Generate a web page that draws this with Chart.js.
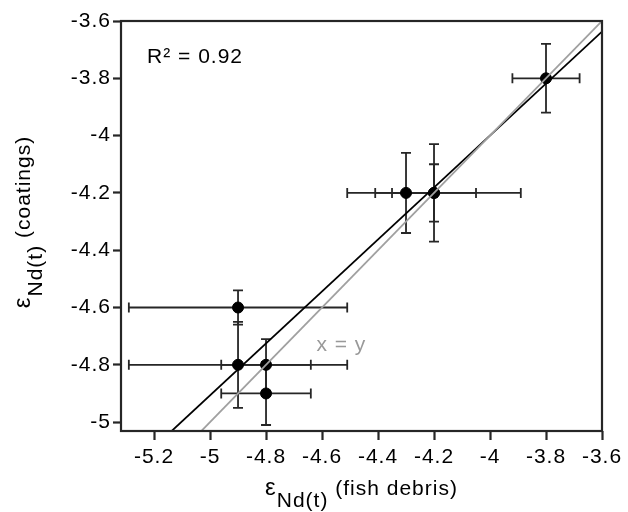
<!DOCTYPE html>
<html lang="en">
<head>
  <meta charset="UTF-8">
  <title>Nd isotopes: coatings vs fish debris</title>
  <script src="https://cdn.jsdelivr.net/npm/chart.js"></script>
  <style>
    body {
      margin: 0;
      padding: 0;
      background: #fff;
    }
    #wrap {
      width: 628px;
      height: 512px;
    }
  </style>
</head>
<body>
  <div id="wrap">
    <canvas id="myChart" width="628" height="512"></canvas>
  </div>

  <script>
    // measured values
    const debrisX = [-3.8, -4.3, -4.2, -4.2, -4.9, -4.9, -4.8, -4.8];
    const coatingsY = [-3.8, -4.2, -4.2, -4.2, -4.6, -4.8, -4.8, -4.9];
    const debrisErr = [0.12, 0.11, 0.31, 0.15, 0.39, 0.39, 0.16, 0.16];
    const coatingsErr = [0.12, 0.14, 0.17, 0.10, 0.06, 0.15, 0.09, 0.11];

    // regression fit and 1:1 line
    const fitX = [-5.2, -3.6];
    const fitY = [-5.088, -3.637];
    const oneToOne = [-5.1, -3.6];

    const xTicks = [-5.2, -5, -4.8, -4.6, -4.4, -4.2, -4, -3.8, -3.6];
    const yTicks = [-5, -4.8, -4.6, -4.4, -4.2, -4, -3.8, -3.6];

    const FONT = '"Liberation Sans", Arial, sans-serif';
    const INK = '#262626';

    const extras = {
      id: 'extras',
      beforeDraw(chart) {
        // the original uses a slightly loose Helvetica
        chart.ctx.letterSpacing = '1px';
      },
      beforeDatasetsDraw(chart) {
        const ctx = chart.ctx;
        const xs = chart.scales.x, ys = chart.scales.y;
        const cap = 5;
        ctx.save();
        ctx.strokeStyle = INK;
        ctx.lineWidth = 1.8;
        for (let i = 0; i < debrisX.length; i++) {
          const px = xs.getPixelForValue(debrisX[i]);
          const py = ys.getPixelForValue(coatingsY[i]);
          const x0 = xs.getPixelForValue(debrisX[i] - debrisErr[i]);
          const x1 = xs.getPixelForValue(debrisX[i] + debrisErr[i]);
          const y0 = ys.getPixelForValue(coatingsY[i] - coatingsErr[i]);
          const y1 = ys.getPixelForValue(coatingsY[i] + coatingsErr[i]);
          ctx.beginPath();
          ctx.moveTo(x0, py); ctx.lineTo(x1, py);
          ctx.moveTo(x0, py - cap); ctx.lineTo(x0, py + cap);
          ctx.moveTo(x1, py - cap); ctx.lineTo(x1, py + cap);
          ctx.moveTo(px, y0); ctx.lineTo(px, y1);
          ctx.moveTo(px - cap, y0); ctx.lineTo(px + cap, y0);
          ctx.moveTo(px - cap, y1); ctx.lineTo(px + cap, y1);
          ctx.stroke();
        }
        ctx.restore();
      },
      afterDraw(chart) {
        const ctx = chart.ctx;
        const a = chart.chartArea;
        const xs = chart.scales.x, ys = chart.scales.y;
        ctx.save();
        // frame
        ctx.strokeStyle = INK;
        ctx.lineWidth = 2.2;
        ctx.strokeRect(a.left, a.top, a.right - a.left, a.bottom - a.top);

        // annotations
        ctx.textBaseline = 'middle';
        ctx.textAlign = 'left';
        ctx.font = '21px ' + FONT;
        ctx.fillStyle = '#000';
        ctx.fillText('R\u00b2 = 0.92', xs.getPixelForValue(-5.225), ys.getPixelForValue(-3.726));
        ctx.fillStyle = '#999';
        ctx.fillText('x = y', xs.getPixelForValue(-4.62), ys.getPixelForValue(-4.73));

        // axis titles with subscripts
        const drawTitle = (main1, sub, main2) => {
          ctx.font = '24px ' + FONT;
          const w1 = ctx.measureText(main1).width;
          ctx.font = '21px ' + FONT;
          const w2 = ctx.measureText(sub).width;
          const w3 = ctx.measureText(main2).width;
          const total = w1 + w2 + w3;
          let x = -total / 2;
          ctx.textAlign = 'left';
          ctx.textBaseline = 'alphabetic';
          ctx.font = '24px ' + FONT;
          ctx.fillText(main1, x, 0);
          x += w1;
          ctx.font = '21px ' + FONT;
          ctx.fillText(sub, x, 12);
          x += w2;
          ctx.fillText(main2, x, 0);
        };
        ctx.fillStyle = '#000';
        ctx.save();
        ctx.translate((a.left + a.right) / 2, 495);
        drawTitle('\u03b5', 'Nd(t)', ' (fish debris)');
        ctx.restore();
        ctx.save();
        ctx.translate(30, (a.top + a.bottom) / 2 - 4);
        ctx.rotate(-Math.PI / 2);
        drawTitle('\u03b5', 'Nd(t)', ' (coatings)');
        ctx.restore();
        ctx.restore();
      }
    };

    const fmt = v => String(Math.round(v * 10) / 10);

    const ctx = document.getElementById('myChart').getContext('2d');
    const myChart = new Chart(ctx, {
      type: 'scatter',
      data: {
        datasets: [
          {
            label: 'x = y',
            data: oneToOne.map(v => ({ x: v, y: v })),
            showLine: true,
            borderColor: '#a0a0a0',
            borderWidth: 1.8,
            pointRadius: 0
          },
          {
            label: 'fit',
            data: fitX.map((v, i) => ({ x: v, y: fitY[i] })),
            showLine: true,
            borderColor: '#000',
            borderWidth: 1.8,
            pointRadius: 0
          },
          {
            label: 'samples',
            data: debrisX.map((v, i) => ({ x: v, y: coatingsY[i] })),
            backgroundColor: '#000',
            borderColor: '#000',
            pointRadius: 5.5,
            pointHoverRadius: 5.5
          }
        ]
      },
      options: {
        responsive: false,
        animation: false,
        layout: { padding: { top: 21, right: 26, bottom: 0, left: 0 } },
        plugins: {
          legend: { display: false },
          tooltip: { enabled: false }
        },
        scales: {
          x: {
            type: 'linear',
            min: -5.318,
            max: -3.6,
            afterBuildTicks: s => { s.ticks = xTicks.map(v => ({ value: v })); },
            afterFit: s => { s.height = 81; },
            border: { display: false },
            grid: {
              drawOnChartArea: false,
              tickLength: 9,
              tickColor: INK,
              tickWidth: 2.2
            },
            ticks: {
              autoSkip: false,
              maxRotation: 0,
              padding: 5,
              color: '#000',
              font: { family: FONT, size: 21 },
              callback: fmt
            }
          },
          y: {
            type: 'linear',
            min: -5.031,
            max: -3.6,
            afterBuildTicks: s => { s.ticks = yTicks.map(v => ({ value: v })); },
            afterFit: s => { s.width = 121; },
            border: { display: false },
            grid: {
              drawOnChartArea: false,
              tickLength: 8,
              tickColor: INK,
              tickWidth: 2.2
            },
            ticks: {
              autoSkip: false,
              padding: 2,
              color: '#000',
              font: { family: FONT, size: 21 },
              callback: fmt
            }
          }
        }
      },
      plugins: [extras]
    });
  </script>
</body>
</html>
